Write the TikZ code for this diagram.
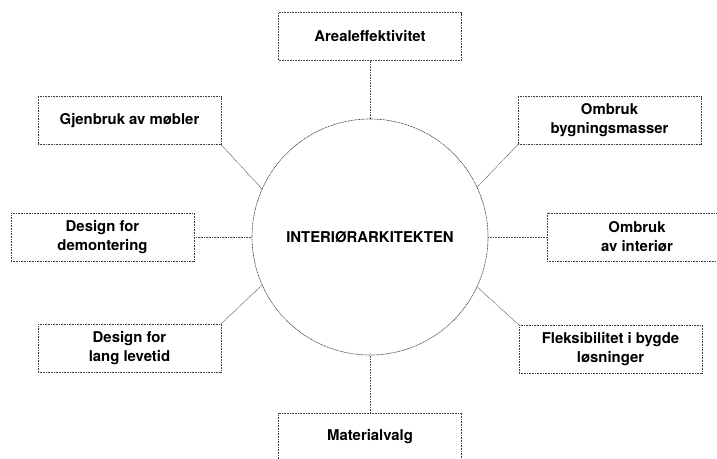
\documentclass[tikz,border=0pt]{standalone}
\usepackage{fontspec}
\setmainfont{TeX Gyre Heros}

\begin{document}
\begin{tikzpicture}[x=1pt,y=-1pt,
    boks/.style={draw=black!75,dash pattern=on 1pt off 0.6pt,line width=0.6pt,
        minimum width=183pt,minimum height=48pt,inner sep=0pt,align=center,
        font=\fontsize{14.9}{19}\selectfont\bfseries},
    sirkel/.style={circle,draw=black!75,dash pattern=on 1pt off 0.6pt,line width=0.6pt,
        minimum size=236pt,inner sep=0pt,font=\fontsize{14.9}{19}\selectfont\bfseries},
    linje/.style={draw=black!70,line width=0.5pt,dash pattern=on 1pt off 0.6pt}]
            \clip (0,0) rectangle (717,458);

            \node[sirkel] (midt) at (370,237) {INTERIØRARKITEKTEN};

            \node[boks] (areal) at (370,36.5) {Arealeffektivitet};
            \node[boks] (gjenbruk) at (129.5,120.5) {Gjenbruk av møbler};
            \node[boks] (bygg) at (609.5,120.5) {Ombruk\\bygningsmasser};
            \node[boks] (demont) at (102.5,237) {Design for\\demontering};
            \node[boks,minimum width=180pt] (interior) at (637,237) {Ombruk\\av interiør};
            \node[boks] (lang) at (129.5,348) {Design for\\lang levetid};
            \node[boks] (fleks) at (610.5,349) {Fleksibilitet i bygde\\løsninger};
            \node[boks] (material) at (370,437) {Materialvalg};

            \draw[linje] (areal) -- (midt);
            \draw[linje] (gjenbruk.south east) -- (midt.156);
            \draw[linje] (bygg.south west) -- (midt.25);
            \draw[linje] (demont) -- (midt);
            \draw[linje] (interior) -- (midt);
            \draw[linje] (lang.north east) -- (midt.204);
            \draw[linje] (fleks.north west) -- (midt.335);
            \draw[linje] (material) -- (midt);
        \end{tikzpicture}
\end{document}
